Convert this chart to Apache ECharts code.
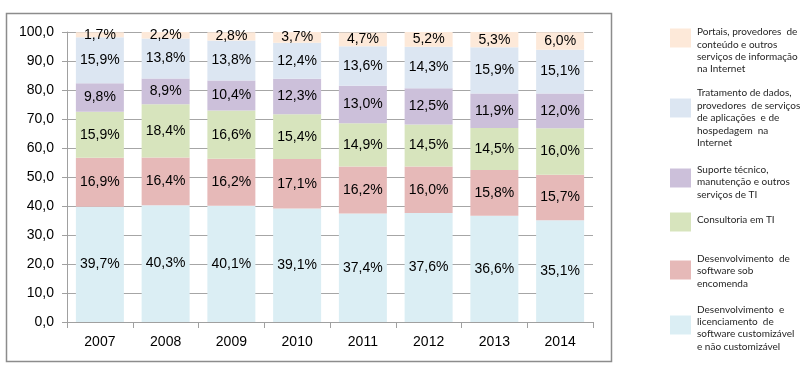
<!DOCTYPE html>
<html>
<head>
<meta charset="utf-8">
<script src="https://cdn.jsdelivr.net/npm/echarts@6/dist/echarts.min.js"></script>
<style>
html,body{margin:0;padding:0;background:#fff;}
#c{width:800px;height:367px;}
</style>
</head>
<body>
<div id="c"></div>
<script>
// Data
const years = ['2007','2008','2009','2010','2011','2012','2013','2014'];
const seriesNames = [
  'Desenvolvimento e licenciamento de software customizável e não customizável',
  'Desenvolvimento de software sob encomenda',
  'Consultoria em TI',
  'Suporte técnico, manutenção e outros serviços de TI',
  'Tratamento de dados, provedores de serviços de aplicações e de hospedagem na Internet',
  'Portais, provedores de conteúdo e outros serviços de informação na Internet'
];
const legendLines = [
  ['Desenvolvimento  e', 'licenciamento  de', 'software customizável', 'e não customizável'],
  ['Desenvolvimento  de', 'software sob', 'encomenda'],
  ['Consultoria em TI'],
  ['Suporte técnico,', 'manutenção e outros', 'serviços de TI'],
  ['Tratamento de dados,', 'provedores  de serviços', 'de aplicações  e de', 'hospedagem  na', 'Internet'],
  ['Portais, provedores  de', 'conteúdo e outros', 'serviços de informação', 'na Internet']
];
const licenciamento = [39.7, 40.3, 40.1, 39.1, 37.4, 37.6, 36.6, 35.1];
const encomenda     = [16.9, 16.4, 16.2, 17.1, 16.2, 16.0, 15.8, 15.7];
const consultoria   = [15.9, 18.4, 16.6, 15.4, 14.9, 14.5, 14.5, 16.0];
const suporte       = [9.8, 8.9, 10.4, 12.3, 13.0, 12.5, 11.9, 12.0];
const tratamento    = [15.9, 13.8, 13.8, 12.4, 13.6, 14.3, 15.9, 15.1];
const portais       = [1.7, 2.2, 2.8, 3.7, 4.7, 5.2, 5.3, 6.0];
const allValues = [licenciamento, encomenda, consultoria, suporte, tratamento, portais];

const colors = ['#DBEEF4', '#E6B9B8', '#D7E4BD', '#CCC0DA', '#DCE6F2', '#FDE9D9'];
const fontMain = '"Liberation Sans", Arial, sans-serif';
const fontLegend = 'Lato, "Liberation Sans", sans-serif';

// legend layout: icon center y and text-offset per item
const iconCenters = [325, 270, 222, 178, 108, 38];
const textOffsets = [3, 1, -2, 4, 10, 12.5];
const lineH = 12.4;
const iconH = 19;

const chart = echarts.init(document.getElementById('c'), null, {renderer: 'canvas'});

const series = allValues.map((vals, i) => ({
  name: seriesNames[i],
  type: 'bar',
  stack: 'total',
  data: vals,
  barWidth: '73%',
  itemStyle: {color: colors[i]},
  label: {
    show: true,
    position: 'inside',
    color: '#000',
    fontFamily: fontMain,
    fontSize: 14,
    formatter: p => p.value.toFixed(1).replace('.', ',') + '%'
  }
}));

const legends = seriesNames.map((name, i) => {
  const n = legendLines[i].length;
  const d = textOffsets[i];
  const sp = Math.abs(2 * d);
  const H = Math.max(n * lineH + sp, iconH);
  const body = legendLines[i].map(l => '{t|' + l + '}');
  if (d > 0) body.unshift('{s| }');
  else if (d < 0) body.push('{s| }');
  const txt = body.join('\n');
  return {
    data: [name],
    left: 670,
    top: iconCenters[i] - H / 2,
    padding: 0,
    orient: 'vertical',
    icon: 'rect',
    itemWidth: 21,
    itemHeight: iconH,
    itemGap: 0,
    selectedMode: false,
    formatter: () => txt,
    textStyle: {
      fontFamily: fontLegend,
      fontSize: 10,
      color: '#262626',
      rich: {
        s: {fontSize: 1, lineHeight: sp, height: sp},
        t: {fontFamily: fontLegend, fontSize: 10, color: '#262626', lineHeight: lineH, padding: [0, 0, 0, 1]}
      }
    }
  };
});

chart.setOption({
  animation: false,
  backgroundColor: '#fff',
  textStyle: {fontFamily: fontMain},
  graphic: [{
    type: 'rect',
    shape: {x: 6.5, y: 13.5, width: 605, height: 348},
    style: {fill: 'none', stroke: '#8c8c8c', lineWidth: 1.5},
    silent: true
  }],
  legend: legends,
  grid: {left: 67, right: 207, top: 32, bottom: 45, containLabel: false},
  xAxis: {
    type: 'category',
    data: years,
    axisLine: {show: true, lineStyle: {color: '#a0a0a0', width: 1}},
    axisTick: {show: true, alignWithLabel: false, length: 6, lineStyle: {color: '#a0a0a0'}},
    axisLabel: {color: '#000', fontSize: 14, fontFamily: fontMain, margin: 13},
    splitLine: {show: false}
  },
  yAxis: {
    type: 'value',
    min: 0,
    max: 100,
    interval: 10,
    axisLine: {show: true, lineStyle: {color: '#a0a0a0', width: 1}},
    axisTick: {show: true, length: 5, lineStyle: {color: '#a0a0a0'}},
    axisLabel: {
      color: '#000', fontSize: 14, fontFamily: fontMain, margin: 13,
      formatter: v => v.toFixed(1).replace('.', ',')
    },
    splitLine: {show: true, lineStyle: {color: '#a6a6a6', width: 1}}
  },
  series: series
});
</script>
</body>
</html>
